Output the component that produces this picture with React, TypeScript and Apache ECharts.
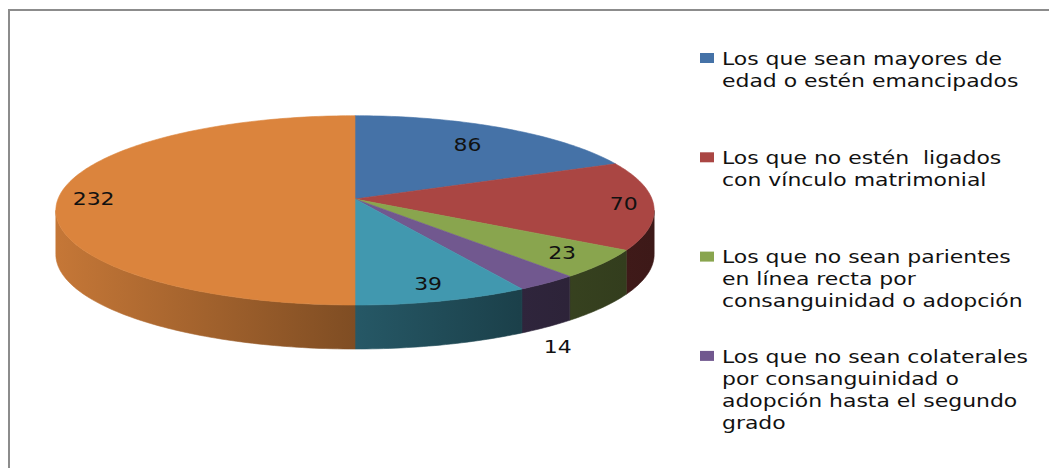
import React, { useEffect, useRef } from 'react';
import * as echarts from 'echarts';

// ---- data ----
const categories = [
  'Los que sean mayores de\nedad o estén emancipados',
  'Los que no estén  ligados\ncon vínculo matrimonial',
  'Los que no sean parientes\nen línea recta por\nconsanguinidad o adopción',
  'Los que no sean colaterales\npor consanguinidad o\nadopción hasta el segundo\ngrado',
  'Otros supuestos',
  'Restantes',
];
const values = [86, 70, 23, 14, 39, 232];
const colors = ['#4572A7', '#AA4643', '#89A54E', '#71588F', '#4198AF', '#DB843D'];
const legendVisible = 4;

// ---- presentation ----
const labelRadius = [0.74, 0.9, 0.85, 1.05, 0.85, 0.88];
const labelOutside = [false, false, false, true, false, false];

const CX = 355, CY = 199, RA = 297, RB = 93.3, K = 0.12, DEPTH = 44;
const FONT = '17px "DejaVu Sans"';
const SX = 1.29;

function project(thetaDeg: number, r: number): number[] {
  const t = (thetaDeg * Math.PI) / 180;
  const u = r * Math.sin(t);
  const v = r * Math.cos(t);
  const s = 1 / (1 + K * v);
  return [CX + RA * u * s, CY - RB * v * s];
}

function shade(hex: string, f: number): string {
  const n = parseInt(hex.slice(1), 16);
  const r = Math.round(((n >> 16) & 255) * f);
  const g = Math.round(((n >> 8) & 255) * f);
  const b = Math.round((n & 255) * f);
  return `rgb(${r},${g},${b})`;
}

function arcPoints(a: number, b: number, dy: number): number[][] {
  const pts: number[][] = [];
  const steps = Math.max(2, Math.ceil(Math.abs(b - a)));
  for (let i = 0; i <= steps; i++) {
    const t = a + ((b - a) * i) / steps;
    const p = project(t, 1);
    pts.push([p[0], p[1] + dy]);
  }
  return pts;
}

export default function App() {
  const ref = useRef<HTMLDivElement>(null);
  useEffect(() => {
    document.body.style.margin = '0';
    if (!ref.current) return;
    const chart = echarts.init(ref.current, undefined, { renderer: 'svg' });
    const total = values.reduce((s, v) => s + v, 0);
    const cum: number[] = [];
    values.reduce((s, v, i) => {
      cum[i] = s;
      return s + v;
    }, 0);
    const thR = (Math.acos(-K) * 180) / Math.PI;
    const thL = 360 - thR;
    const xMin = CX - RA / Math.sqrt(1 - K * K);
    const xMax = CX + RA / Math.sqrt(1 - K * K);
    const off = (x: number) => (x - xMin) / (xMax - xMin);

    const graphics: any[] = [
      {
        type: 'rect',
        shape: { x: 9, y: 10, width: 1100, height: 500 },
        style: { fill: 'none', stroke: '#8c8c8c', lineWidth: 2 },
        silent: true,
      },
    ];
    for (let i = 0; i < legendVisible; i++) {
      graphics.push({
        type: 'rect',
        shape: { x: 700, y: 53 + 99.3 * i, width: 14, height: 10 },
        style: { fill: colors[i] },
      });
      graphics.push({
        type: 'text',
        x: 722,
        y: 48 + 99.3 * i,
        scaleX: SX,
        style: {
          text: categories[i],
          font: FONT,
          lineHeight: 22,
          fill: '#111',
          verticalAlign: 'top',
          align: 'left',
        },
      });
    }

    chart.setOption({
      animation: false,
      backgroundColor: '#fff',
      graphic: graphics,
      series: [
        {
          type: 'custom',
          coordinateSystem: 'none',
          data: values.map((v, i) => ({ value: [v, cum[i], i], name: categories[i] })),
          renderItem: (params: any, api: any) => {
            const v = api.value(0);
            const st = api.value(1);
            const idx = api.value(2);
            const t1 = (st / total) * 360;
            const t2 = ((st + v) / total) * 360;
            const col = colors[idx];
            const children: any[] = [];
            const a = Math.max(t1, thR);
            const b = Math.min(t2, thL);
            if (a < b) {
              const top = arcPoints(a, b, 0);
              const bot = arcPoints(b, a, DEPTH);
              const grad = new echarts.graphic.LinearGradient(
                xMin, 0, xMax, 0,
                [
                  { offset: 0, color: shade(col, 0.9) },
                  { offset: off(CX), color: shade(col, 0.58) },
                  { offset: off(520), color: shade(col, 0.42) },
                  { offset: 1, color: shade(col, 0.36) },
                ],
                true
              );
              children.push({
                type: 'polygon',
                z2: 1,
                shape: { points: top.concat(bot) },
                style: { fill: grad, stroke: grad, lineWidth: 0.6 },
              });
            }
            const apex = project(0, 0);
            children.push({
              type: 'polygon',
              z2: 2,
              shape: { points: [apex].concat(arcPoints(t1, t2, 0)) },
              style: { fill: col, stroke: col, lineWidth: 0.6 },
            });
            const mid = (t1 + t2) / 2;
            const lp = project(mid, labelRadius[idx]);
            const ly = labelOutside[idx] ? lp[1] + DEPTH + 16 : lp[1];
            children.push({
              type: 'text',
              z2: 10,
              x: lp[0],
              y: ly,
              scaleX: SX,
              style: {
                text: String(v),
                font: FONT,
                fill: '#111',
                align: 'center',
                verticalAlign: 'middle',
              },
            });
            return { type: 'group', children };
          },
        },
      ],
    });
    return () => chart.dispose();
  }, []);
  return <div ref={ref} style={{ width: 1049, height: 468 }} />;
}
